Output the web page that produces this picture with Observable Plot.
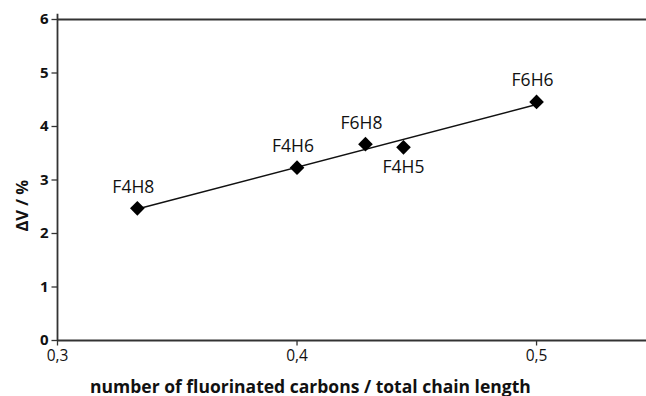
<!DOCTYPE html>
<html>
<head>
<meta charset="utf-8">
<script src="https://cdn.jsdelivr.net/npm/d3@7"></script>
<script src="https://cdn.jsdelivr.net/npm/@observablehq/plot@0.6"></script>
<style>
  html, body { margin: 0; padding: 0; background: #fff; }
  #chart svg { display: block; }
</style>
</head>
<body>
<div id="chart"></div>
<script>
const names = ["F4H8", "F4H6", "F6H8", "F4H5", "F6H6"];
const ratio = [4/12, 4/10, 6/14, 4/9, 6/12];
const deltaV = [2.47, 3.23, 3.67, 3.61, 4.46];
const labelBelow = [false, false, false, true, false];
const xTicks = [0.3, 0.4, 0.5];
const yTicks = [0, 1, 2, 3, 4, 5, 6];
const xTitle = "number of fluorinated carbons / total chain length";
const yTitle = "ΔV / %";

const data = names.map((n, i) => ({name: n, x: ratio[i], y: deltaV[i], below: labelBelow[i]}));
const fmt = d => String(d).replace(".", ",");
const yLab = yTicks.map(v => ({x: 0.3, y: v, t: fmt(v)}));
const xLab = xTicks.map(v => ({x: v, y: 0, t: fmt(v)}));
const titleX = [{x: 0.4056, y: 0, t: xTitle}];
const titleY = [{x: 0.2854, y: 2.52, t: yTitle}];

const tickLeft = {draw(ctx) { ctx.moveTo(0, 0); ctx.lineTo(-6, 0); }};
const tickDown = {draw(ctx) { ctx.moveTo(0, 0); ctx.lineTo(0, 5); }};

const chart = Plot.plot({
  width: 646,
  height: 396,
  marginLeft: 57,
  marginRight: 0,
  marginTop: 19,
  marginBottom: 56,
  style: {fontFamily: "'Open Sans', sans-serif", fontSize: "15px", color: "#000", background: "#fff"},
  x: {domain: [0.3, 0.5459], axis: null},
  y: {domain: [0, 6], axis: null},
  marks: [
    Plot.ruleY([6], {stroke: "#333", strokeWidth: 1.8}),
    Plot.ruleX([0.3], {y1: 0, y2: 6.1, stroke: "#333", strokeWidth: 1.8}),
    Plot.ruleY([0], {stroke: "#333", strokeWidth: 1.8}),
    Plot.dot(yLab, {x: "x", y: "y", symbol: tickLeft, fill: "none", stroke: "#333", strokeWidth: 1.3}),
    Plot.dot(xLab, {x: "x", y: "y", symbol: tickDown, fill: "none", stroke: "#333", strokeWidth: 1.3}),
    Plot.text(yLab, {x: "x", y: "y", text: "t", dx: -9, textAnchor: "end", lineAnchor: "middle", fontSize: 15, fontWeight: "bold", fill: "#111"}),
    Plot.text(xLab, {x: "x", y: "y", text: "t", dy: 9, textAnchor: "middle", lineAnchor: "top", fontSize: 15.5, fill: "#111"}),
    Plot.linearRegressionY(data, {x: "x", y: "y", ci: 0, stroke: "#111", strokeWidth: 1.5}),
    Plot.dot(data, {x: "x", y: "y", symbol: "diamond2", r: 6.6, fill: "#000", stroke: "none"}),
    Plot.text(data.filter(d => !d.below), {x: "x", y: "y", text: "name", dy: -21, dx: -4, fontSize: 17.5, fill: "#111"}),
    Plot.text(data.filter(d => d.below), {x: "x", y: "y", text: "name", dy: 20, dx: 0, fontSize: 17.5, fill: "#111"}),
    Plot.text(titleX, {x: "x", y: "y", text: "t", dy: 52, lineAnchor: "bottom", textAnchor: "middle", fontSize: 17.5, fontWeight: "bold", fill: "#111", letterSpacing: -0.25}),
    Plot.text(titleY, {x: "x", y: "y", text: "t", rotate: -90, lineAnchor: "middle", textAnchor: "middle", fontSize: 16.5, fontWeight: "bold", fill: "#111"})
  ]
});
document.getElementById("chart").appendChild(chart);
</script>
</body>
</html>
